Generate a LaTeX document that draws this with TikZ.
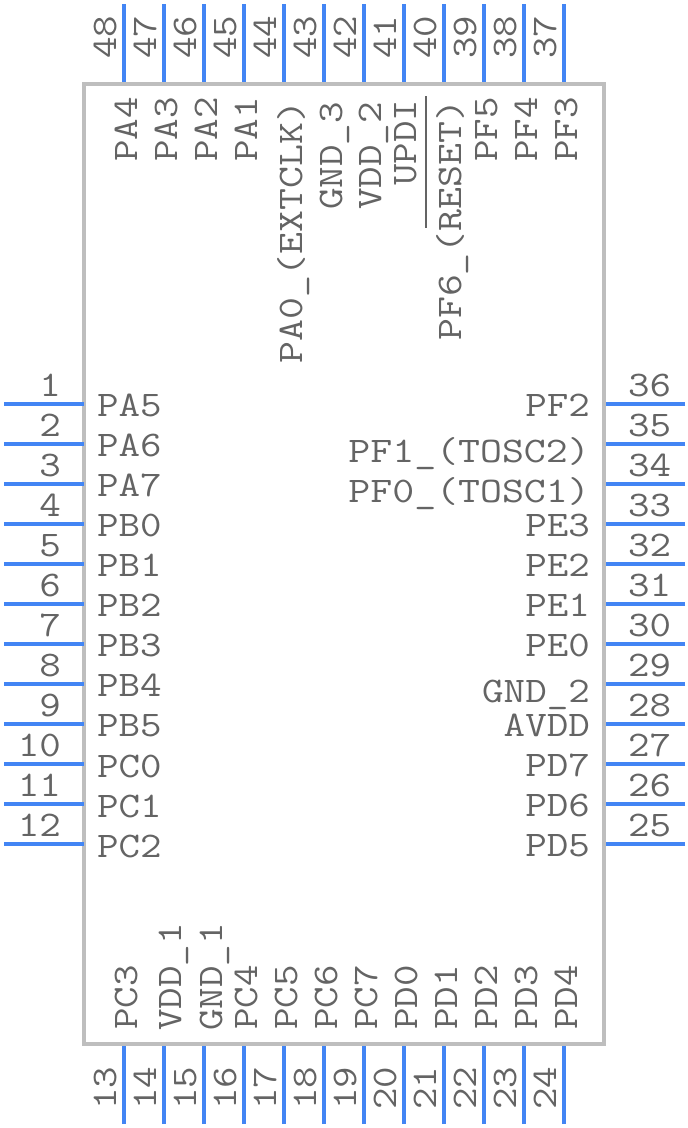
\documentclass[tikz,border=0pt]{standalone}
\usepackage{xcolor}
\definecolor{PinBlue}{RGB}{66,133,244}
\definecolor{BodyGrey}{RGB}{190,190,190}
\definecolor{TextGrey}{RGB}{100,100,100}
\tikzset{
  pinline/.style={PinBlue, line width=4pt},
  chipbody/.style={draw=BodyGrey, line width=4pt, fill=white},
  overbar/.style={TextGrey, line width=2pt},
  pintext/.style={TextGrey, inner sep=0pt, xscale=1.16, font=\fontsize{36}{36}\selectfont\ttfamily},
  longname/.style={xscale=1.02},
  leftnum/.style={pintext, anchor=base east},
  rightnum/.style={pintext, anchor=base west},
  upnum/.style={rotate=90, pintext, anchor=base west},
  leftname/.style={pintext, anchor=base west},
  rightname/.style={pintext, anchor=base east},
  upname/.style={rotate=90, pintext, anchor=base west}
}
\begin{document}
\begin{tikzpicture}[x=1pt, y=-1pt]
  \useasboundingbox (0,0) rectangle (688,1128);
  \coordinate (tl) at (84,84); \coordinate (br) at (604,1044);
  \draw[chipbody] (tl) rectangle (br);
  % left side
  \coordinate (a1) at (4,404);  \coordinate (b1) at (84,404);  \draw[pinline] (a1)--(b1);  \node[leftnum] (n1) at (61,396) {1};  \node[leftname] (l1) at (97,416) {PA5};
  \coordinate (a2) at (4,444);  \coordinate (b2) at (84,444);  \draw[pinline] (a2)--(b2);  \node[leftnum] (n2) at (61,436) {2};  \node[leftname] (l2) at (97,456) {PA6};
  \coordinate (a3) at (4,484);  \coordinate (b3) at (84,484);  \draw[pinline] (a3)--(b3);  \node[leftnum] (n3) at (61,476) {3};  \node[leftname] (l3) at (97,496) {PA7};
  \coordinate (a4) at (4,524);  \coordinate (b4) at (84,524);  \draw[pinline] (a4)--(b4);  \node[leftnum] (n4) at (61,516) {4};  \node[leftname] (l4) at (97,536) {PB0};
  \coordinate (a5) at (4,564);  \coordinate (b5) at (84,564);  \draw[pinline] (a5)--(b5);  \node[leftnum] (n5) at (61,556) {5};  \node[leftname] (l5) at (97,576) {PB1};
  \coordinate (a6) at (4,604);  \coordinate (b6) at (84,604);  \draw[pinline] (a6)--(b6);  \node[leftnum] (n6) at (61,596) {6};  \node[leftname] (l6) at (97,616) {PB2};
  \coordinate (a7) at (4,644);  \coordinate (b7) at (84,644);  \draw[pinline] (a7)--(b7);  \node[leftnum] (n7) at (61,636) {7};  \node[leftname] (l7) at (97,656) {PB3};
  \coordinate (a8) at (4,684);  \coordinate (b8) at (84,684);  \draw[pinline] (a8)--(b8);  \node[leftnum] (n8) at (61,676) {8};  \node[leftname] (l8) at (97,696) {PB4};
  \coordinate (a9) at (4,724);  \coordinate (b9) at (84,724);  \draw[pinline] (a9)--(b9);  \node[leftnum] (n9) at (61,716) {9};  \node[leftname] (l9) at (97,736) {PB5};
  \coordinate (a10) at (4,764); \coordinate (b10) at (84,764); \draw[pinline] (a10)--(b10); \node[leftnum] (n10) at (61,756) {10}; \node[leftname] (l10) at (97,777) {PC0};
  \coordinate (a11) at (4,804); \coordinate (b11) at (84,804); \draw[pinline] (a11)--(b11); \node[leftnum] (n11) at (61,796) {11}; \node[leftname] (l11) at (97,817) {PC1};
  \coordinate (a12) at (4,844); \coordinate (b12) at (84,844); \draw[pinline] (a12)--(b12); \node[leftnum] (n12) at (61,836) {12}; \node[leftname] (l12) at (97,857) {PC2};
  % bottom side
  \coordinate (a13) at (124,1124); \coordinate (b13) at (124,1046); \draw[pinline] (a13)--(b13); \node[upnum] (n13) at (116,1110) {13}; \node[upname] (l13) at (137,1030) {PC3};
  \coordinate (a14) at (164,1124); \coordinate (b14) at (164,1046); \draw[pinline] (a14)--(b14); \node[upnum] (n14) at (156,1110) {14}; \node[upname] (l14) at (181,1031) {VDD\_1};
  \coordinate (a15) at (204,1124); \coordinate (b15) at (204,1046); \draw[pinline] (a15)--(b15); \node[upnum] (n15) at (196,1110) {15}; \node[upname] (l15) at (222,1031) {GND\_1};
  \coordinate (a16) at (244,1124); \coordinate (b16) at (244,1046); \draw[pinline] (a16)--(b16); \node[upnum] (n16) at (236,1110) {16}; \node[upname] (l16) at (257,1030) {PC4};
  \coordinate (a17) at (284,1124); \coordinate (b17) at (284,1046); \draw[pinline] (a17)--(b17); \node[upnum] (n17) at (276,1110) {17}; \node[upname] (l17) at (297,1030) {PC5};
  \coordinate (a18) at (324,1124); \coordinate (b18) at (324,1046); \draw[pinline] (a18)--(b18); \node[upnum] (n18) at (316,1110) {18}; \node[upname] (l18) at (337,1030) {PC6};
  \coordinate (a19) at (364,1124); \coordinate (b19) at (364,1046); \draw[pinline] (a19)--(b19); \node[upnum] (n19) at (356,1110) {19}; \node[upname] (l19) at (377,1030) {PC7};
  \coordinate (a20) at (404,1124); \coordinate (b20) at (404,1046); \draw[pinline] (a20)--(b20); \node[upnum] (n20) at (396,1110) {20}; \node[upname] (l20) at (417,1030) {PD0};
  \coordinate (a21) at (444,1124); \coordinate (b21) at (444,1046); \draw[pinline] (a21)--(b21); \node[upnum] (n21) at (436,1110) {21}; \node[upname] (l21) at (457,1030) {PD1};
  \coordinate (a22) at (484,1124); \coordinate (b22) at (484,1046); \draw[pinline] (a22)--(b22); \node[upnum] (n22) at (476,1110) {22}; \node[upname] (l22) at (497,1030) {PD2};
  \coordinate (a23) at (524,1124); \coordinate (b23) at (524,1046); \draw[pinline] (a23)--(b23); \node[upnum] (n23) at (516,1110) {23}; \node[upname] (l23) at (537,1030) {PD3};
  \coordinate (a24) at (564,1124); \coordinate (b24) at (564,1046); \draw[pinline] (a24)--(b24); \node[upnum] (n24) at (556,1110) {24}; \node[upname] (l24) at (577,1030) {PD4};
  % right side
  \coordinate (a25) at (685,844); \coordinate (b25) at (606,844); \draw[pinline] (a25)--(b25); \node[rightnum] (n25) at (628,836) {25}; \node[rightname] (l25) at (590,856) {PD5};
  \coordinate (a26) at (685,804); \coordinate (b26) at (606,804); \draw[pinline] (a26)--(b26); \node[rightnum] (n26) at (628,796) {26}; \node[rightname] (l26) at (590,816) {PD6};
  \coordinate (a27) at (685,764); \coordinate (b27) at (606,764); \draw[pinline] (a27)--(b27); \node[rightnum] (n27) at (628,756) {27}; \node[rightname] (l27) at (590,776) {PD7};
  \coordinate (a28) at (685,724); \coordinate (b28) at (606,724); \draw[pinline] (a28)--(b28); \node[rightnum] (n28) at (628,716) {28}; \node[rightname] (l28) at (590,736) {AVDD};
  \coordinate (a29) at (685,684); \coordinate (b29) at (606,684); \draw[pinline] (a29)--(b29); \node[rightnum] (n29) at (628,676) {29}; \node[rightname] (l29) at (590,702) {GND\_2};
  \coordinate (a30) at (685,644); \coordinate (b30) at (606,644); \draw[pinline] (a30)--(b30); \node[rightnum] (n30) at (628,636) {30}; \node[rightname] (l30) at (590,656) {PE0};
  \coordinate (a31) at (685,604); \coordinate (b31) at (606,604); \draw[pinline] (a31)--(b31); \node[rightnum] (n31) at (628,596) {31}; \node[rightname] (l31) at (590,616) {PE1};
  \coordinate (a32) at (685,564); \coordinate (b32) at (606,564); \draw[pinline] (a32)--(b32); \node[rightnum] (n32) at (628,556) {32}; \node[rightname] (l32) at (590,576) {PE2};
  \coordinate (a33) at (685,524); \coordinate (b33) at (606,524); \draw[pinline] (a33)--(b33); \node[rightnum] (n33) at (628,516) {33}; \node[rightname] (l33) at (590,536) {PE3};
  \coordinate (a34) at (685,484); \coordinate (b34) at (606,484); \draw[pinline] (a34)--(b34); \node[rightnum] (n34) at (628,476) {34}; \node[rightname, longname] (l34) at (590,502) {PF0\_(TOSC1)};
  \coordinate (a35) at (685,444); \coordinate (b35) at (606,444); \draw[pinline] (a35)--(b35); \node[rightnum] (n35) at (628,436) {35}; \node[rightname, longname] (l35) at (590,462) {PF1\_(TOSC2)};
  \coordinate (a36) at (685,404); \coordinate (b36) at (606,404); \draw[pinline] (a36)--(b36); \node[rightnum] (n36) at (628,396) {36}; \node[rightname] (l36) at (590,416) {PF2};
  % top side
  \coordinate (a37) at (564,4); \coordinate (b37) at (564,82); \draw[pinline] (a37)--(b37); \node[upnum] (n37) at (556,59) {37}; \node[upname] (l37) at (577,162) {PF3};
  \coordinate (a38) at (524,4); \coordinate (b38) at (524,82); \draw[pinline] (a38)--(b38); \node[upnum] (n38) at (516,59) {38}; \node[upname] (l38) at (537,162) {PF4};
  \coordinate (a39) at (484,4); \coordinate (b39) at (484,82); \draw[pinline] (a39)--(b39); \node[upnum] (n39) at (476,59) {39}; \node[upname] (l39) at (497,162) {PF5};
  \coordinate (a40) at (444,4); \coordinate (b40) at (444,82); \draw[pinline] (a40)--(b40); \node[upnum] (n40) at (436,59) {40}; \node[upname, longname] (l40) at (461,341) {PF6\_(RESET)};
  \coordinate (a41) at (404,4); \coordinate (b41) at (404,82); \draw[pinline] (a41)--(b41); \node[upnum] (n41) at (396,59) {41}; \node[upname] (l41) at (416,186) {UPDI};
  \coordinate (a42) at (364,4); \coordinate (b42) at (364,82); \draw[pinline] (a42)--(b42); \node[upnum] (n42) at (356,59) {42}; \node[upname] (l42) at (381,210) {VDD\_2};
  \coordinate (a43) at (324,4); \coordinate (b43) at (324,82); \draw[pinline] (a43)--(b43); \node[upnum] (n43) at (316,59) {43}; \node[upname] (l43) at (342,210) {GND\_3};
  \coordinate (a44) at (284,4); \coordinate (b44) at (284,82); \draw[pinline] (a44)--(b44); \node[upnum] (n44) at (276,59) {44}; \node[upname, longname] (l44) at (302,364) {PA0\_(EXTCLK)};
  \coordinate (a45) at (244,4); \coordinate (b45) at (244,82); \draw[pinline] (a45)--(b45); \node[upnum] (n45) at (236,59) {45}; \node[upname] (l45) at (257,162) {PA1};
  \coordinate (a46) at (204,4); \coordinate (b46) at (204,82); \draw[pinline] (a46)--(b46); \node[upnum] (n46) at (196,59) {46}; \node[upname] (l46) at (217,162) {PA2};
  \coordinate (a47) at (164,4); \coordinate (b47) at (164,82); \draw[pinline] (a47)--(b47); \node[upnum] (n47) at (156,59) {47}; \node[upname] (l47) at (177,162) {PA3};
  \coordinate (a48) at (124,4); \coordinate (b48) at (124,82); \draw[pinline] (a48)--(b48); \node[upnum] (n48) at (116,59) {48}; \node[upname] (l48) at (137,162) {PA4};
  % bar over the reset name
  \coordinate (r1) at (426,96); \coordinate (r2) at (426,228); \draw[overbar] (r1)--(r2);
\end{tikzpicture}
\end{document}
